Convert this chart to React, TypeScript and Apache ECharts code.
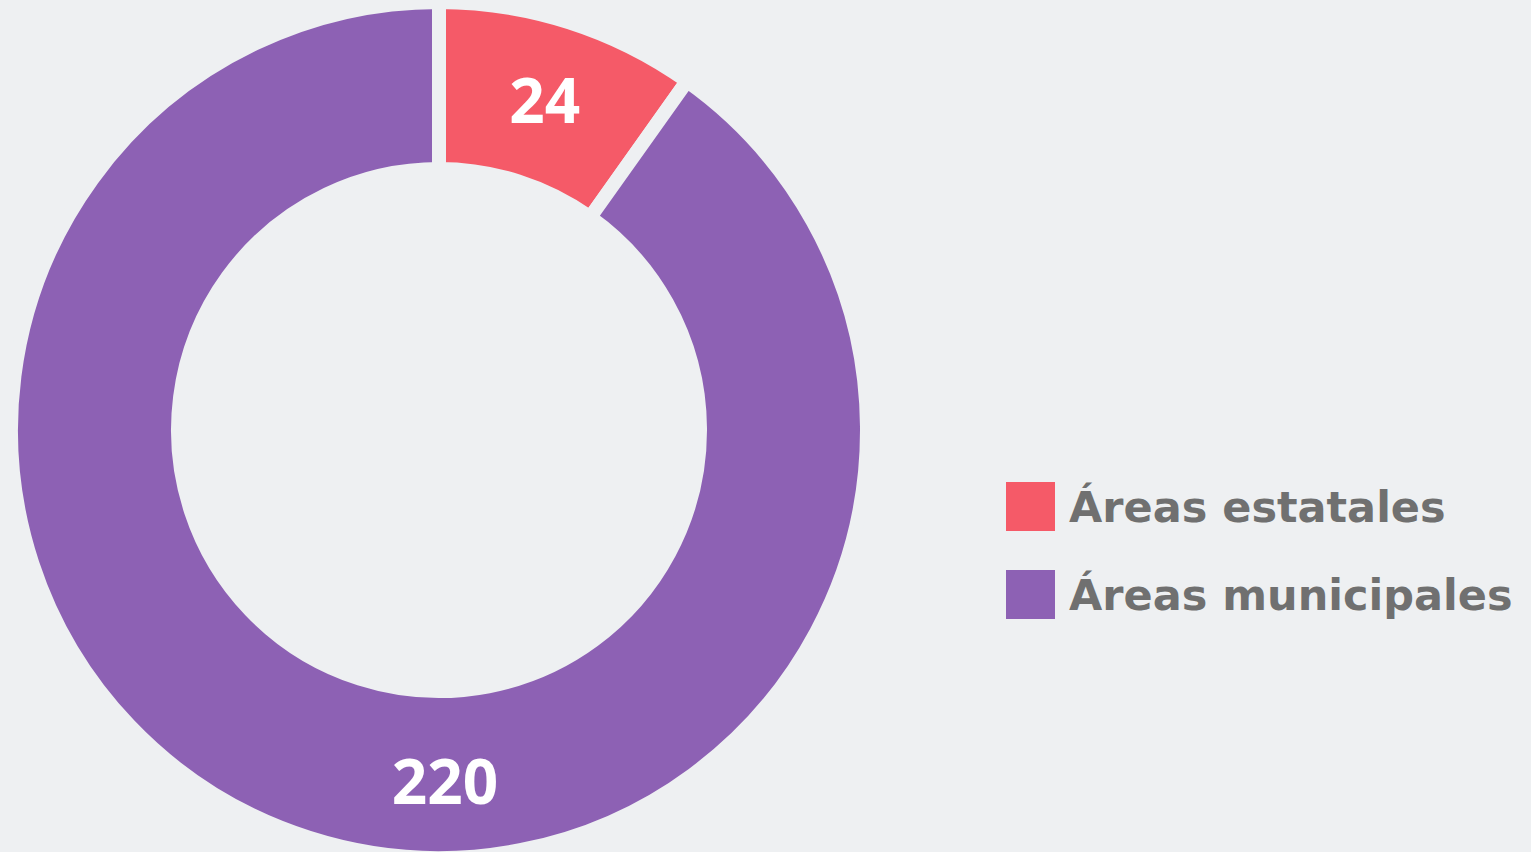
import React, { useEffect, useRef } from "react";
import * as echarts from "echarts";

const categories = ["Áreas estatales", "Áreas municipales"];
const values = [24, 220];
const colors = ["#F55A68", "#8D61B4"];
const BG = "#EEF0F2";

export default function App() {
  const ref = useRef<HTMLDivElement>(null);
  useEffect(() => {
    document.body.style.margin = "0";
    const chart = echarts.init(ref.current!, null, { renderer: "svg" });
    chart.setOption({
      animation: false,
      backgroundColor: BG,
      legend: {
        orient: "vertical",
        left: 999,
        top: 475,
        itemWidth: 51,
        itemHeight: 51,
        itemGap: 35,
        icon: "rect",
        textStyle: {
          fontFamily: "DejaVu Sans",
          fontWeight: "bold",
          fontSize: 43,
          color: "#707070",
          padding: [0, 0, 0, 8],
        },
        data: categories,
      },
      series: [
        {
          type: "pie",
          center: [439, 430],
          radius: [261, 428],
          startAngle: 90,
          clockwise: true,
          avoidLabelOverlap: false,
          itemStyle: { borderColor: BG, borderWidth: 14 },
          label: {
            show: true,
            position: "inside",
            formatter: "{c}",
            color: "#ffffff",
            fontFamily: "Open Sans",
            fontWeight: 700,
            fontSize: 62,
          },
          labelLine: { show: false },
          labelLayout: (params: any) =>
            params.dataIndex === 1
              ? { x: 445, y: 780, align: "center", verticalAlign: "middle" }
              : {},
          emphasis: { disabled: true },
          data: categories.map((name, i) => ({
            name,
            value: values[i],
            itemStyle: { color: colors[i] },
          })),
        },
      ],
    });
    return () => chart.dispose();
  }, []);
  return <div ref={ref} style={{ width: 1531, height: 852, background: BG }} />;
}
